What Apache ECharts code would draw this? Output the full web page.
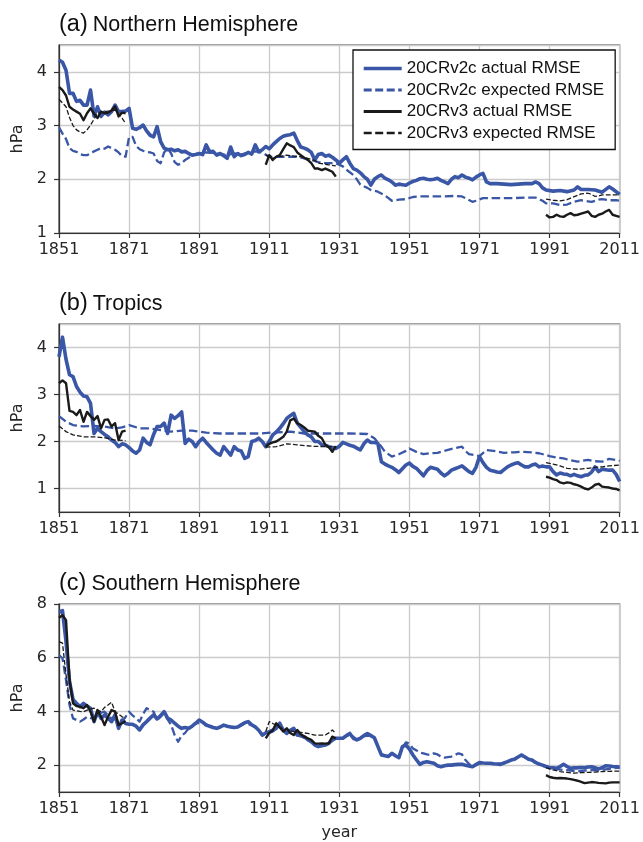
<!DOCTYPE html>
<html>
<head>
<meta charset="utf-8">
<script src="https://cdn.jsdelivr.net/npm/echarts@6/dist/echarts.min.js"></script>
<style>html,body{margin:0;padding:0;background:#fff;}#chart{width:643px;height:842px;}</style>
</head>
<body>
<div id="chart"></div>
<script>
// ---------- data (year, hPa) ----------
const xTickYears = [1851, 1871, 1891, 1911, 1931, 1951, 1971, 1991, 2011];
const seriesNames = ['20CRv2c actual RMSE', '20CRv2c expected RMSE', '20CRv3 actual RMSE', '20CRv3 expected RMSE'];
const panelTitles = ['(a)|Northern Hemisphere', '(b)|Tropics', '(c)|Southern Hemisphere'];

// (a) Northern Hemisphere
const nhV2cAct = [[1851,4.22],[1852,4.18],[1853,4.03],[1854,3.6],[1855,3.6],[1856,3.45],[1857,3.47],[1858,3.38],[1859,3.38],[1860,3.66],[1861,3.18],[1862,3.35],[1863,3.17],[1864,3.25],[1865,3.2],[1866,3.26],[1867,3.38],[1868,3.26],[1869,3.26],[1870,3.27],[1871,3.32],[1872,2.95],[1873,2.93],[1874,2.96],[1875,3.01],[1876,2.9],[1877,2.82],[1878,2.79],[1879,2.98],[1880,2.7],[1881,2.58],[1882,2.55],[1883,2.56],[1884,2.53],[1885,2.55],[1886,2.51],[1887,2.52],[1888,2.48],[1889,2.45],[1890,2.46],[1891,2.48],[1892,2.46],[1893,2.64],[1894,2.51],[1895,2.52],[1896,2.45],[1897,2.48],[1898,2.44],[1899,2.39],[1900,2.6],[1901,2.42],[1902,2.48],[1903,2.44],[1904,2.46],[1905,2.5],[1906,2.47],[1907,2.64],[1908,2.51],[1909,2.55],[1910,2.61],[1911,2.57],[1912,2.64],[1913,2.7],[1914,2.76],[1915,2.8],[1916,2.82],[1917,2.83],[1918,2.86],[1919,2.72],[1920,2.6],[1921,2.58],[1922,2.55],[1923,2.5],[1924,2.36],[1925,2.46],[1926,2.48],[1927,2.43],[1928,2.45],[1929,2.41],[1930,2.36],[1931,2.3],[1932,2.36],[1933,2.42],[1934,2.3],[1935,2.2],[1936,2.17],[1937,2.12],[1938,2.05],[1939,2.0],[1940,1.89],[1941,2.0],[1942,2.05],[1943,2.08],[1944,2.02],[1945,1.99],[1946,1.95],[1947,1.89],[1948,1.91],[1949,1.9],[1950,1.89],[1951,1.93],[1952,1.96],[1953,1.98],[1954,2.01],[1955,2.02],[1956,2.0],[1957,1.99],[1958,2.0],[1959,2.02],[1960,1.98],[1961,1.95],[1962,1.92],[1963,2.0],[1964,2.05],[1965,2.03],[1966,2.08],[1967,2.04],[1968,2.02],[1969,1.99],[1970,2.04],[1971,2.08],[1972,2.11],[1973,1.95],[1974,1.92],[1976,1.92],[1978,1.91],[1980,1.9],[1982,1.91],[1984,1.92],[1986,1.92],[1987,1.95],[1988,1.92],[1989,1.84],[1990,1.8],[1992,1.78],[1994,1.79],[1996,1.77],[1998,1.8],[1999,1.86],[2000,1.81],[2002,1.81],[2004,1.8],[2006,1.76],[2008,1.86],[2009,1.82],[2011,1.72]];
const nhV2cExp = [[1851,2.97],[1852,2.85],[1853,2.75],[1854,2.58],[1855,2.53],[1856,2.51],[1857,2.47],[1858,2.45],[1859,2.45],[1860,2.48],[1861,2.52],[1862,2.55],[1863,2.58],[1864,2.57],[1865,2.61],[1866,2.58],[1867,2.55],[1868,2.5],[1869,2.43],[1870,2.42],[1871,2.79],[1872,2.79],[1873,2.62],[1874,2.56],[1875,2.53],[1876,2.51],[1877,2.5],[1878,2.48],[1879,2.34],[1880,2.3],[1881,2.5],[1882,2.58],[1883,2.48],[1884,2.32],[1885,2.27],[1886,2.3],[1887,2.36],[1888,2.4],[1889,2.45],[1891,2.47],[1893,2.5],[1895,2.49],[1897,2.47],[1899,2.45],[1901,2.48],[1903,2.46],[1905,2.5],[1907,2.52],[1909,2.5],[1911,2.42],[1914,2.42],[1917,2.42],[1919,2.42],[1921,2.39],[1923,2.36],[1925,2.32],[1927,2.3],[1930,2.3],[1932,2.24],[1933,2.18],[1935,2.08],[1936,2.0],[1937,1.9],[1939,1.84],[1940,1.8],[1942,1.77],[1944,1.7],[1946,1.6],[1948,1.62],[1950,1.63],[1952,1.67],[1954,1.68],[1957,1.68],[1960,1.68],[1964,1.69],[1966,1.68],[1967,1.65],[1969,1.58],[1970,1.6],[1972,1.65],[1975,1.65],[1978,1.65],[1981,1.65],[1984,1.66],[1987,1.66],[1989,1.6],[1990,1.55],[1992,1.55],[1994,1.52],[1996,1.53],[1998,1.58],[2000,1.61],[2002,1.59],[2003,1.58],[2005,1.62],[2006,1.63],[2008,1.61],[2010,1.61],[2011,1.6]];
const nhV3Act = [[1851,3.72],[1852,3.66],[1853,3.56],[1854,3.35],[1855,3.3],[1856,3.26],[1857,3.22],[1858,3.1],[1859,3.23],[1860,3.32],[1861,3.22],[1862,3.14],[1863,3.26],[1864,3.23],[1865,3.24],[1866,3.28],[1867,3.36],[1868,3.17],[1869,3.24],[1870,3.23],[1890,null],[1910,2.27],[1911,2.45],[1912,2.36],[1913,2.42],[1914,2.45],[1915,2.56],[1916,2.67],[1917,2.63],[1918,2.6],[1919,2.5],[1920,2.45],[1921,2.4],[1922,2.36],[1923,2.3],[1924,2.2],[1925,2.2],[1926,2.17],[1927,2.2],[1928,2.17],[1929,2.14],[1930,2.05],[1960,null],[1990,1.34],[1991,1.29],[1992,1.3],[1993,1.34],[1994,1.31],[1995,1.3],[1996,1.34],[1997,1.37],[1998,1.33],[1999,1.34],[2000,1.36],[2001,1.38],[2002,1.4],[2003,1.32],[2004,1.3],[2005,1.34],[2006,1.36],[2007,1.4],[2008,1.43],[2009,1.34],[2010,1.32],[2011,1.3]];
const nhV3Exp = [[1851,3.49],[1852,3.42],[1853,3.35],[1854,3.15],[1855,3.0],[1856,2.92],[1857,2.88],[1858,2.86],[1859,2.92],[1860,3.01],[1861,3.12],[1862,3.23],[1863,3.24],[1864,3.26],[1865,3.27],[1866,3.28],[1867,3.29],[1868,3.22],[1869,3.14],[1870,3.04],[1890,null],[1910,2.45],[1912,2.39],[1914,2.42],[1916,2.45],[1918,2.43],[1920,2.42],[1922,2.39],[1924,2.35],[1925,2.3],[1927,2.28],[1928,2.27],[1930,2.25],[1960,null],[1990,1.63],[1992,1.61],[1994,1.6],[1996,1.62],[1997,1.65],[1999,1.7],[2000,1.73],[2002,1.74],[2003,1.72],[2004,1.68],[2005,1.69],[2006,1.71],[2008,1.71],[2011,1.71]];

// (b) Tropics
const trV2cAct = [[1851,3.8],[1852,4.22],[1853,3.75],[1854,3.42],[1855,3.38],[1856,3.17],[1857,3.05],[1858,2.97],[1859,2.95],[1860,2.81],[1861,2.17],[1862,2.28],[1863,2.21],[1864,2.15],[1865,2.1],[1866,2.03],[1867,1.98],[1868,1.89],[1869,1.95],[1870,1.93],[1871,1.87],[1872,1.8],[1873,1.75],[1874,1.82],[1875,2.07],[1876,1.98],[1877,1.93],[1878,2.15],[1879,2.32],[1880,2.32],[1881,2.39],[1882,2.17],[1883,2.56],[1884,2.49],[1885,2.55],[1886,2.63],[1887,1.96],[1888,2.05],[1889,2.0],[1890,1.89],[1891,2.0],[1892,2.07],[1893,1.98],[1894,1.9],[1895,1.82],[1896,1.75],[1897,1.71],[1898,1.89],[1899,1.8],[1900,1.71],[1901,1.89],[1902,1.82],[1903,1.8],[1904,1.64],[1905,1.68],[1906,2.0],[1907,2.02],[1908,2.07],[1909,2.0],[1910,1.89],[1911,2.0],[1912,2.14],[1913,2.2],[1914,2.28],[1915,2.38],[1916,2.49],[1917,2.55],[1918,2.6],[1919,2.39],[1920,2.3],[1921,2.21],[1922,2.14],[1923,2.1],[1924,2.0],[1925,2.0],[1926,1.93],[1927,1.92],[1928,1.89],[1929,1.87],[1930,1.85],[1931,1.9],[1932,1.98],[1933,1.95],[1934,1.92],[1935,1.9],[1936,1.86],[1937,1.82],[1938,1.95],[1939,2.03],[1940,1.98],[1941,1.98],[1942,1.96],[1943,1.57],[1944,1.52],[1945,1.48],[1946,1.45],[1947,1.4],[1948,1.34],[1949,1.42],[1950,1.5],[1951,1.54],[1952,1.47],[1953,1.43],[1954,1.35],[1955,1.27],[1956,1.38],[1957,1.45],[1958,1.43],[1959,1.41],[1960,1.33],[1961,1.27],[1962,1.32],[1963,1.39],[1964,1.42],[1965,1.45],[1966,1.48],[1967,1.42],[1968,1.36],[1969,1.32],[1970,1.45],[1971,1.68],[1972,1.55],[1973,1.45],[1974,1.39],[1975,1.37],[1976,1.35],[1977,1.34],[1978,1.4],[1979,1.46],[1980,1.5],[1981,1.53],[1982,1.55],[1983,1.5],[1984,1.46],[1985,1.46],[1986,1.5],[1987,1.52],[1988,1.46],[1989,1.48],[1990,1.46],[1991,1.46],[1992,1.36],[1993,1.29],[1994,1.33],[1995,1.31],[1996,1.3],[1997,1.27],[1998,1.3],[1999,1.27],[2000,1.25],[2001,1.28],[2002,1.29],[2003,1.35],[2004,1.46],[2005,1.36],[2006,1.41],[2007,1.4],[2008,1.39],[2009,1.39],[2010,1.3],[2011,1.15]];
const trV2cExp = [[1851,2.54],[1852,2.48],[1853,2.42],[1855,2.35],[1858,2.32],[1861,2.33],[1864,2.32],[1867,2.28],[1869,2.3],[1871,2.35],[1874,2.28],[1877,2.28],[1880,2.24],[1883,2.21],[1886,2.23],[1889,2.23],[1893,2.19],[1897,2.17],[1902,2.17],[1908,2.17],[1912,2.19],[1917,2.21],[1921,2.17],[1926,2.17],[1930,2.17],[1934,2.17],[1939,2.16],[1941,2.07],[1942,1.98],[1943,1.89],[1944,1.78],[1946,1.68],[1948,1.73],[1950,1.8],[1951,1.85],[1953,1.78],[1955,1.73],[1957,1.75],[1959,1.76],[1962,1.82],[1964,1.86],[1966,1.89],[1967,1.8],[1968,1.73],[1971,1.69],[1973,1.82],[1975,1.8],[1978,1.76],[1981,1.77],[1983,1.78],[1986,1.77],[1988,1.75],[1991,1.69],[1993,1.66],[1995,1.64],[1997,1.6],[1999,1.57],[2001,1.6],[2002,1.61],[2004,1.58],[2006,1.57],[2008,1.63],[2011,1.59]];
const trV3Act = [[1851,3.24],[1852,3.3],[1853,3.24],[1854,2.65],[1855,2.63],[1856,2.56],[1857,2.67],[1858,2.42],[1859,2.63],[1860,2.54],[1861,2.46],[1862,2.54],[1863,2.28],[1864,2.46],[1865,2.47],[1866,2.32],[1867,2.39],[1868,2.03],[1869,2.21],[1870,2.23],[1890,null],[1910,1.89],[1911,1.95],[1912,1.98],[1913,2.0],[1914,2.05],[1915,2.1],[1916,2.21],[1917,2.45],[1918,2.49],[1919,2.39],[1920,2.35],[1921,2.3],[1922,2.23],[1923,2.22],[1924,2.21],[1925,2.12],[1926,2.07],[1927,1.93],[1928,1.88],[1929,1.78],[1930,1.9],[1960,null],[1990,1.25],[1991,1.23],[1992,1.2],[1993,1.18],[1994,1.13],[1995,1.11],[1996,1.13],[1997,1.12],[1998,1.09],[1999,1.07],[2000,1.04],[2001,1.0],[2002,0.98],[2003,1.02],[2004,1.08],[2005,1.1],[2006,1.04],[2007,1.03],[2008,1.02],[2009,1.0],[2010,0.99],[2011,0.96]];
const trV3Exp = [[1851,2.33],[1852,2.27],[1853,2.21],[1855,2.14],[1858,2.1],[1861,2.1],[1864,2.08],[1867,2.03],[1870,2.02],[1890,null],[1910,1.88],[1913,1.89],[1916,1.95],[1919,1.93],[1923,1.9],[1927,1.89],[1930,1.89],[1960,null],[1990,1.55],[1992,1.52],[1994,1.48],[1996,1.43],[1999,1.41],[2002,1.43],[2004,1.45],[2006,1.46],[2008,1.48],[2011,1.5]];

// (c) Southern Hemisphere
const shV2cAct = [[1851,7.71],[1852,7.75],[1853,6.6],[1854,5.11],[1855,4.45],[1856,4.3],[1857,4.18],[1858,4.3],[1859,4.2],[1860,4.12],[1861,3.62],[1862,3.99],[1863,3.74],[1864,3.87],[1865,3.75],[1866,3.62],[1867,3.87],[1868,3.37],[1869,3.68],[1870,3.55],[1871,3.52],[1872,3.52],[1873,3.45],[1874,3.31],[1875,3.5],[1876,3.62],[1877,3.75],[1878,3.87],[1879,3.72],[1880,3.85],[1881,3.99],[1882,3.75],[1883,3.68],[1884,3.56],[1885,3.45],[1886,3.37],[1887,3.4],[1888,3.37],[1889,3.45],[1890,3.56],[1891,3.68],[1892,3.6],[1893,3.49],[1894,3.45],[1895,3.4],[1896,3.37],[1897,3.42],[1898,3.49],[1899,3.45],[1900,3.42],[1901,3.4],[1902,3.42],[1903,3.5],[1904,3.58],[1905,3.62],[1906,3.5],[1907,3.43],[1908,3.3],[1909,3.12],[1910,3.2],[1911,3.25],[1912,3.3],[1913,3.37],[1914,3.56],[1915,3.3],[1916,3.18],[1917,3.3],[1918,3.37],[1919,3.12],[1920,3.1],[1921,3.06],[1922,2.95],[1923,2.87],[1924,2.75],[1925,2.69],[1926,2.72],[1927,2.75],[1928,2.81],[1929,2.95],[1930,3.0],[1931,3.0],[1932,3.0],[1933,3.1],[1934,3.18],[1935,3.0],[1936,2.94],[1937,3.0],[1938,3.1],[1939,3.18],[1940,3.1],[1941,3.02],[1942,2.7],[1943,2.38],[1944,2.35],[1945,2.32],[1946,2.44],[1947,2.35],[1948,2.28],[1949,2.69],[1950,2.75],[1951,2.6],[1952,2.38],[1953,2.2],[1954,2.03],[1955,2.1],[1956,2.13],[1957,2.1],[1958,2.07],[1959,1.98],[1960,1.94],[1961,1.98],[1962,2.0],[1963,2.0],[1964,2.02],[1965,2.03],[1966,2.03],[1967,2.0],[1968,1.97],[1969,1.94],[1970,2.02],[1971,2.1],[1972,2.08],[1973,2.07],[1974,2.07],[1975,2.05],[1976,2.04],[1977,2.03],[1978,2.08],[1979,2.13],[1980,2.19],[1981,2.22],[1982,2.3],[1983,2.38],[1984,2.3],[1985,2.22],[1986,2.19],[1987,2.1],[1988,2.04],[1989,2.0],[1990,1.95],[1991,1.91],[1992,1.9],[1993,1.88],[1994,1.95],[1995,2.03],[1996,1.95],[1997,1.88],[1998,1.9],[1999,1.9],[2000,1.91],[2001,1.9],[2002,1.93],[2003,1.94],[2004,1.9],[2005,1.86],[2006,1.9],[2007,1.98],[2008,1.97],[2009,1.95],[2010,1.94],[2011,1.93]];
const shV2cExp = [[1851,6.1],[1852,5.98],[1853,5.17],[1854,4.24],[1855,3.74],[1856,3.68],[1857,3.62],[1858,3.7],[1859,3.8],[1860,3.75],[1861,3.74],[1862,3.85],[1863,3.95],[1864,3.99],[1865,3.85],[1866,3.74],[1867,3.7],[1868,3.65],[1869,3.62],[1870,3.8],[1871,3.99],[1872,3.85],[1873,3.75],[1874,3.62],[1875,3.9],[1876,4.12],[1877,4.05],[1878,3.99],[1879,3.68],[1880,3.8],[1881,3.93],[1882,3.7],[1883,3.5],[1884,3.12],[1885,2.87],[1886,3.1],[1887,3.2],[1888,3.37],[1889,3.45],[1890,3.55],[1892,3.6],[1894,3.45],[1896,3.37],[1898,3.48],[1900,3.42],[1902,3.42],[1904,3.55],[1906,3.5],[1908,3.3],[1909,3.1],[1910,3.15],[1912,3.25],[1914,3.45],[1916,3.2],[1918,3.3],[1920,3.08],[1922,2.95],[1924,2.78],[1926,2.75],[1928,2.8],[1930,3.0],[1932,3.0],[1934,3.15],[1936,2.96],[1938,3.08],[1940,3.1],[1941,3.0],[1942,2.72],[1943,2.4],[1945,2.34],[1946,2.44],[1948,2.3],[1949,2.65],[1950,2.85],[1951,2.8],[1952,2.62],[1953,2.55],[1954,2.47],[1955,2.44],[1956,2.4],[1957,2.38],[1958,2.44],[1959,2.4],[1960,2.32],[1961,2.28],[1962,2.3],[1963,2.32],[1964,2.38],[1965,2.44],[1966,2.4],[1967,2.19],[1968,2.05],[1969,1.95],[1970,2.02],[1972,2.08],[1974,2.07],[1976,2.04],[1978,2.08],[1980,2.18],[1982,2.3],[1983,2.36],[1985,2.22],[1987,2.1],[1989,1.98],[1991,1.88],[1993,1.85],[1995,1.82],[1997,1.8],[1999,1.76],[2001,1.8],[2003,1.82],[2005,1.8],[2007,1.84],[2009,1.88],[2011,1.91]];
const shV3Act = [[1851,7.49],[1852,7.58],[1853,7.4],[1854,5.2],[1855,4.3],[1856,4.2],[1857,4.18],[1858,4.12],[1859,4.24],[1860,3.99],[1861,3.62],[1862,4.05],[1863,3.8],[1864,3.49],[1865,3.8],[1866,4.05],[1867,3.99],[1868,3.49],[1869,3.56],[1870,3.64],[1890,null],[1910,3.0],[1911,3.2],[1912,3.3],[1913,3.56],[1914,3.4],[1915,3.25],[1916,3.37],[1917,3.2],[1918,3.12],[1919,3.31],[1920,3.15],[1921,3.06],[1922,3.0],[1923,2.94],[1924,2.81],[1925,2.8],[1926,2.81],[1927,2.8],[1928,2.81],[1929,3.06],[1930,3.0],[1960,null],[1990,1.63],[1991,1.56],[1992,1.53],[1993,1.51],[1994,1.52],[1995,1.51],[1996,1.5],[1997,1.48],[1998,1.45],[1999,1.42],[2000,1.38],[2001,1.33],[2002,1.35],[2003,1.37],[2004,1.36],[2005,1.34],[2006,1.33],[2007,1.32],[2008,1.35],[2009,1.36],[2010,1.36],[2011,1.36]];
const shV3Exp = [[1851,6.6],[1852,6.54],[1853,5.36],[1854,4.36],[1855,4.05],[1857,4.0],[1858,3.99],[1859,4.05],[1861,4.12],[1862,4.05],[1863,3.99],[1864,4.15],[1865,4.24],[1866,4.34],[1867,3.99],[1868,3.9],[1869,3.8],[1870,3.74],[1890,null],[1910,3.25],[1911,3.62],[1912,3.55],[1913,3.49],[1915,3.35],[1916,3.31],[1918,3.25],[1920,3.22],[1922,3.18],[1924,3.12],[1926,3.12],[1927,3.12],[1928,3.2],[1929,3.31],[1930,3.18],[1960,null],[1990,1.91],[1992,1.82],[1994,1.76],[1996,1.73],[1998,1.7],[2000,1.72],[2002,1.73],[2004,1.74],[2006,1.76],[2008,1.77],[2011,1.78]];

// ---------- chart ----------
const BASE = xTickYears[0];
const panels = [
  {data: [nhV2cAct, nhV2cExp, nhV3Act, nhV3Exp], yMin: 1, yMax: 4.5, showMin: true, showMax: false},
  {data: [trV2cAct, trV2cExp, trV3Act, trV3Exp], yMin: 0.5, yMax: 4.5, showMin: false, showMax: false},
  {data: [shV2cAct, shV2cExp, shV3Act, shV3Exp], yMin: 1, yMax: 8, showMin: false, showMax: true}
];
const gridTops = [45, 324, 604];
const BLUE = '#3a56a6', BLACK = '#1a1a1a';
const styles = [
  {color: BLUE, width: 3.6, type: 'solid', z: 2},
  {color: BLUE, width: 2.3, type: [8.5, 3.7], z: 3},
  {color: BLACK, width: 2.4, type: 'solid', z: 4},
  {color: BLACK, width: 1.3, type: [4.8, 2.1], z: 5}
];
const toXY = arr => arr.map(([yr, v]) => [yr - BASE, v == null ? '-' : v]);
const TICK = '#262626', AX = '#333333', GRIDC = '#cbcbcb';
const HIDE = {color: 'rgba(0,0,0,0)', borderColor: 'rgba(0,0,0,0)', borderWidth: 0, opacity: 0};

const option = {
  animation: false,
  backgroundColor: '#ffffff',
  title: panelTitles.map((t, i) => {
    const [a, b] = t.split('|');
    return {
      text: '{p|' + a + '} {m|' + b + '}',
      left: 54, top: gridTops[i] - 37,
      textStyle: {fontWeight: 'normal', rich: {
        p: {fontFamily: 'Liberation Sans', fontSize: 23.5, fontWeight: 'normal', color: '#111'},
        m: {fontFamily: 'Liberation Sans', fontSize: 21.5, fontWeight: 'normal', color: '#111'}
      }}
    };
  }),
  grid: gridTops.map(top => ({left: 59, top: top, width: 562, height: 188, show: true,
    borderColor: AX, borderWidth: 1.2, backgroundColor: 'transparent'})),
  xAxis: gridTops.map((t, i) => ({
    type: 'value', gridIndex: i, min: 0, max: xTickYears[xTickYears.length - 1] - BASE, interval: 20,
    axisLine: {show: true, onZero: false, lineStyle: {color: AX, width: 1.2}},
    axisTick: {show: true, length: 5, lineStyle: {color: AX, width: 1.2}},
    axisLabel: {formatter: v => String(v + BASE), color: TICK, fontSize: 16, fontFamily: 'DejaVu Sans', margin: 9},
    splitLine: {show: true, lineStyle: {color: GRIDC, width: 1.3}},
    name: i === 2 ? 'year' : '', nameLocation: 'middle', nameGap: 33,
    nameTextStyle: {color: TICK, fontSize: 16, fontFamily: 'DejaVu Sans'}
  })),
  yAxis: panels.map((p, i) => ({
    type: 'value', gridIndex: i, min: p.yMin, max: p.yMax, splitNumber: 4,
    axisLine: {show: true, onZero: false, lineStyle: {color: AX, width: 1.2}},
    axisTick: {show: true, length: 5, lineStyle: {color: AX, width: 1.2}},
    axisLabel: {color: TICK, fontSize: 16, fontFamily: 'DejaVu Sans', margin: 12,
      showMinLabel: p.showMin, showMaxLabel: p.showMax,
      formatter: v => (Math.abs(v - Math.round(v)) < 1e-9 ? String(Math.round(v)) : '')},
    splitLine: {show: true, lineStyle: {color: GRIDC, width: 1.3}},
    name: 'hPa', nameLocation: 'middle', nameGap: 25,
    nameTextStyle: {color: TICK, fontSize: 16, fontFamily: 'DejaVu Sans'}
  })),
  legend: {
    show: true, orient: 'vertical', left: 353, top: 50,
    padding: [10, 11, 8, 9], itemWidth: 38, itemHeight: 14, itemGap: 4.5,
    backgroundColor: '#ffffff', borderColor: '#111', borderWidth: 1.3, borderRadius: 0,
    itemStyle: HIDE,
    textStyle: {fontFamily: 'Liberation Sans', fontSize: 17, color: '#111', lineHeight: 17},
    data: seriesNames.map((n, k) => ({
      name: n,
      itemStyle: HIDE,
      lineStyle: k === 3 ? {width: 2.6, type: [8, 3.5]} : (k === 1 ? {width: 2.8, type: [8, 3.5]} : {width: k === 0 ? 3.4 : 2.8})
    }))
  },
  series: []
};

panels.forEach((p, i) => {
  p.data.forEach((arr, k) => {
    const s = styles[k];
    option.series.push({
      name: seriesNames[k], type: 'line', xAxisIndex: i, yAxisIndex: i,
      data: toXY(arr), showSymbol: false, symbol: 'none', connectNulls: false,
      z: s.z, silent: true,
      lineStyle: {color: s.color, width: s.width, type: s.type, join: 'round', cap: 'butt'},
      itemStyle: {color: s.color}
    });
  });
});

const chart = echarts.init(document.getElementById('chart'), null, {renderer: 'canvas'});
chart.setOption(option);
</script>
</body>
</html>
